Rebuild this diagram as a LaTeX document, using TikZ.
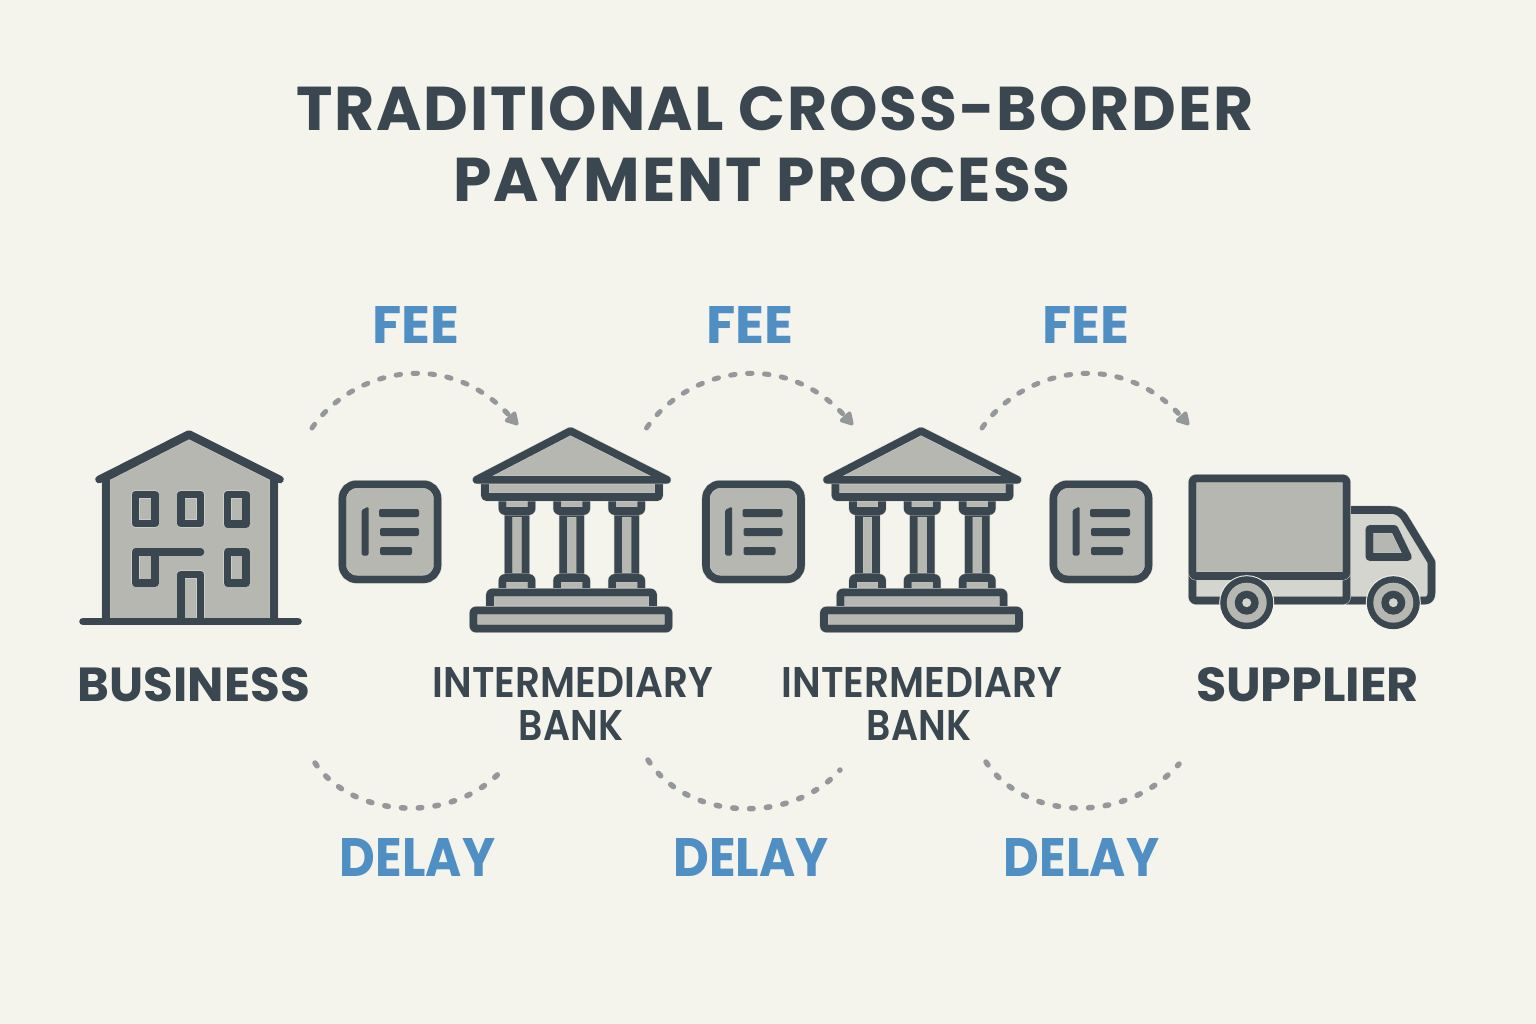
\documentclass[tikz,border=0pt]{standalone}
\usepackage{fontspec}
\usepackage{graphicx}
\usetikzlibrary{arrows.meta}
\setmainfont{Poppins}[BoldFont={Poppins Bold}]
\newfontfamily\semifont{Poppins SemiBold}
\newfontfamily\titlefont{Poppins}[BoldFont={Poppins Bold},LetterSpace=3]
\definecolor{bgc}{HTML}{F4F3EC}
\definecolor{ink}{HTML}{3A4650}
\definecolor{midg}{HTML}{B7B7B2}
\definecolor{ligg}{HTML}{D5D5CF}
\definecolor{halo}{HTML}{CDCDC7}
\definecolor{feeg}{HTML}{94989A}
\definecolor{bluec}{HTML}{4F8FC4}
\newcommand{\fitbox}[3]{\resizebox{#1pt}{#2pt}{#3}}
\tikzset{
  x=1pt,y=-1pt,
  iconbox/.style={line join=round,preaction={line join=round,fill=#1,draw=halo,line width=8.6pt},draw=ink,line width=7.6pt,line cap=round},
  iconbox/.default=midg,
  inkbar/.style={line join=round,draw=ink,line width=7.6pt,line cap=round},
  thinbar/.style={fill=ink,rounded corners=2pt},
  titletext/.style={inner sep=0pt,text=ink,font=\titlefont\bfseries},
  namelabel/.style={inner sep=0pt,text=ink,font=\bfseries},
  banklabel/.style={inner sep=0pt,text=ink,font=\semifont},
  bluelabel/.style={inner sep=0pt,text=bluec,font=\bfseries},
  feearc/.style={draw=feeg,line width=5pt,line cap=round,dash pattern=on 4.5pt off 12.5pt,-{Triangle[length=15pt,width=16pt,round,sep=0pt]}},
  delayarc/.style={draw=feeg,line width=5.5pt,line cap=round,dash pattern=on 3.5pt off 13.3pt},
}
\newcommand{\docicon}[1]{%
  \begin{scope}[shift={(#1,0)}]
    \draw[iconbox,rounded corners=14pt] (342.5,484.3) rectangle (437.5,579.3);
    \fill[ink,rounded corners=1.5pt] (361.5,555.5) -- (361.5,510) -- (368.5,506.5) -- (368.5,555.5) -- cycle;
    \fill[thinbar] (379,509) rectangle (419,517);
    \fill[thinbar] (380,528) rectangle (419,536);
    \fill[thinbar] (380,547) rectangle (412,555);
  \end{scope}}
\newcommand{\column}[1]{%
  \begin{scope}[shift={(#1,0)}]
    \draw[iconbox,rounded corners=1pt] (-8.5,513) rectangle (8.5,577);
    \draw[iconbox,rounded corners=2pt] (-14.5,497) rectangle (14.5,511);
    \draw[iconbox,rounded corners=2pt] (-14.5,578) rectangle (14.5,592);
  \end{scope}}
\newcommand{\bankicon}[1]{%
  \begin{scope}[shift={(#1,0)}]
    \column{517}\column{571.7}\column{626.7}
    \draw[iconbox,rounded corners=1pt] (485,480) rectangle (659,497);
    \draw[iconbox] (570.5,431) -- (476.5,479.8) -- (667,479.8) -- cycle;
    \draw[iconbox,rounded corners=2pt] (490,592.5) rectangle (653,610);
    \draw[iconbox,rounded corners=2pt] (473.5,610.5) rectangle (668.5,628.5);
  \end{scope}}
\newcommand{\wheel}[1]{%
  \begin{scope}[shift={(#1,602.7)}]
    \fill[bgc] (0,0) circle (27.5);
    \fill[ink] (0,0) circle (26.5);
    \fill[midg] (0,0) circle (20);
    \fill[ink] (0,0) circle (12);
    \fill[ligg] (0,0) circle (4.5);
  \end{scope}}
\begin{document}
\begin{tikzpicture}
\useasboundingbox (0,0) rectangle (1536,1024);
\fill[bgc] (0,0) rectangle (1536,1024);

% title
\node[titletext] (title1) at (775,109) {\fitbox{957}{44}{TRADITIONAL CROSS-BORDER}};
\node[titletext] (title2) at (762,180) {\fitbox{617}{44}{PAYMENT PROCESS}};

% business
\draw[iconbox] (106,621) -- (106,477.5) -- (189,435) -- (274,477.5) -- (274,621);
\draw[inkbar] (99,479.5) -- (189,434) -- (280,479.5);
\draw[iconbox] (135.5,494.5) rectangle (155,523.5);
\draw[iconbox] (181,494.5) rectangle (200.5,523.5);
\draw[iconbox] (227.5,494.5) rectangle (246,524);
\draw[iconbox] (135.5,552) rectangle (155,583);
\draw[inkbar] (155,552) -- (200.5,552);
\draw[iconbox] (227.5,552) rectangle (246,583);
\draw[iconbox] (181,621) -- (181,574.5) -- (200.5,574.5) -- (200.5,621);
\draw[inkbar] (83,621.5) -- (298,621.5);

\docicon{0}\docicon{363.5}\docicon{711}
\bankicon{0}\bankicon{350.5}

% truck
\draw[iconbox=ligg] (1346.5,510) -- (1390,510) .. controls (1398,510) and (1402,513) .. (1406,520) -- (1431.5,562) -- (1431.5,592) .. controls (1431.5,598) and (1429,600.5) .. (1425,600.5) -- (1346.5,600.5) -- cycle;
\draw[iconbox=midg] (1369.5,529) -- (1394.5,529) -- (1408,557) -- (1369.5,557) -- cycle;
\draw[iconbox=ligg,rounded corners=3pt] (1192.5,570) rectangle (1346.5,600.5);
\draw[iconbox=midg,rounded corners=3pt] (1192.5,478.5) rectangle (1346.5,576);
\wheel{1246.7}\wheel{1393.3}

% labels
\node[namelabel] (business) at (194,685) {\fitbox{232}{34}{BUSINESS}};
\node[banklabel] (bank1a) at (573,682) {\fitbox{280}{30}{INTERMEDIARY}};
\node[banklabel] (bank1b) at (571,725) {\fitbox{104}{30}{BANK}};
\node[banklabel] (bank2a) at (922,682) {\fitbox{280}{30}{INTERMEDIARY}};
\node[banklabel] (bank2b) at (919,725) {\fitbox{104}{30}{BANK}};
\node[namelabel] (supplier) at (1307.5,685) {\fitbox{223}{34}{SUPPLIER}};

\node[bluelabel] (fee1) at (415.5,325) {\fitbox{87}{37}{FEE}};
\node[bluelabel] (fee2) at (749.5,325) {\fitbox{87}{37}{FEE}};
\node[bluelabel] (fee3) at (1085.5,325) {\fitbox{87}{37}{FEE}};
\node[bluelabel] (delay1) at (417.5,857) {\fitbox{155}{38}{DELAY}};
\node[bluelabel] (delay2) at (751,857) {\fitbox{155}{38}{DELAY}};
\node[bluelabel] (delay3) at (1081.5,857) {\fitbox{155}{38}{DELAY}};

% arcs
\coordinate (fs1) at (312,428); \coordinate (fe1) at (518,425);
\coordinate (fs2) at (646.5,428); \coordinate (fe2) at (853,425);
\coordinate (fs3) at (982,428); \coordinate (fe3) at (1189,425);
\draw[feearc] (fs1) .. controls +(38,-56) and +(-73,-80) .. (fe1);
\draw[feearc] (fs2) .. controls +(38,-56) and +(-73,-80) .. (fe2);
\draw[feearc] (fs3) .. controls +(38,-56) and +(-73,-80) .. (fe3);
\coordinate (ds1) at (315,763); \coordinate (de1) at (503,769);
\coordinate (ds2) at (648,760); \coordinate (de2) at (840,770);
\coordinate (ds3) at (986,762); \coordinate (de3) at (1179,764);
\draw[delayarc] (ds1) .. controls +(38,56) and +(-50,56) .. (de1);
\draw[delayarc] (ds2) .. controls +(38,60) and +(-50,56) .. (de2);
\draw[delayarc] (ds3) .. controls +(38,58) and +(-55,62) .. (de3);
\end{tikzpicture}
\end{document}
